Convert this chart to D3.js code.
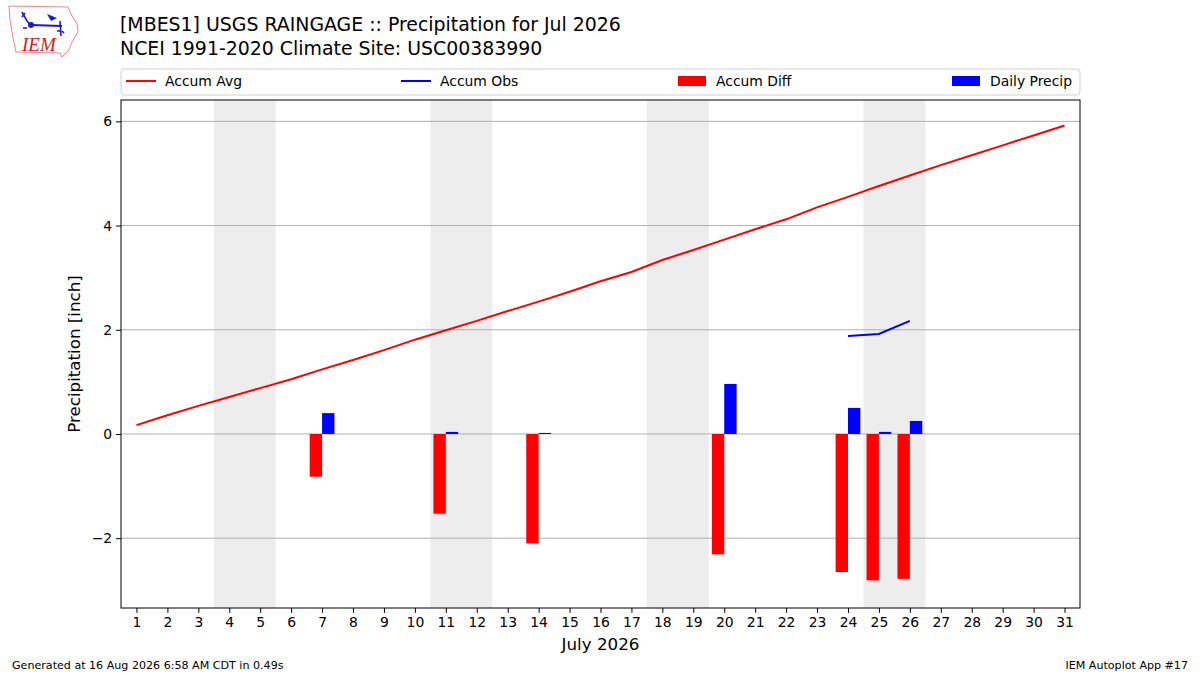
<!DOCTYPE html>
<html>
<head>
<meta charset="utf-8">
<script src="https://cdn.jsdelivr.net/npm/d3@7"></script>
<style>
    body { margin: 0; background: #fff; }
    svg text { font-family: "DejaVu Sans", sans-serif; }
</style>
</head>
<body>
<div id="chart"></div>
<script>
// day of month (x categories)
var days = [1, 2, 3, 4, 5, 6, 7, 8, 9, 10, 11, 12, 13, 14, 15, 16, 17, 18, 19, 20,
    21, 22, 23, 24, 25, 26, 27, 28, 29, 30, 31];
// climatology accumulation, inch
var accumAvg = [0.17, 0.36, 0.54, 0.71, 0.88, 1.05, 1.24, 1.42, 1.61, 1.81, 1.99, 2.17,
    2.36, 2.54, 2.73, 2.93, 3.11, 3.34, 3.53, 3.73, 3.93, 4.12, 4.35, 4.55, 4.76, 4.96,
    5.16, 5.35, 5.54, 5.73, 5.92];
// observed accumulation (only plotted for these days)
var obsDays = [24, 25, 26];
var accumObs = [1.88, 1.92, 2.17];
// days with rain
var rainDays = [7, 11, 14, 20, 24, 25, 26];
var dailyPrecip = [0.40, 0.04, 0.02, 0.96, 0.50, 0.04, 0.25];
var accumDiff = [-0.82, -1.53, -2.10, -2.31, -2.65, -2.81, -2.78];
// weekend shading (saturday, sunday)
var weekends = [[4, 5], [11, 12], [18, 19], [25, 26]];
var yTicks = [-2, 0, 2, 4, 6];
var legendLabels = ["Accum Avg", "Accum Obs", "Accum Diff", "Daily Precip"];

function init() {
    var w = 1200, h = 675;
    var left = 121, right = 1080, top = 100, bottom = 608;

    var svg = d3.select("#chart").append("svg")
        .attr("width", w)
        .attr("height", h);

    var x = d3.scaleLinear().domain([0.5, 31.5]).range([left, right]);
    var y = d3.scaleLinear().domain([-3.34, 6.41]).range([bottom, top]);

    // weekend boxes
    svg.append("g").selectAll("rect")
        .data(weekends)
        .enter()
        .append("rect")
        .attr("x", d => x(d[0] - 0.5))
        .attr("y", top)
        .attr("width", d => x(d[1] + 0.5) - x(d[0] - 0.5))
        .attr("height", bottom - top)
        .attr("fill", "#ededed");

    // horizontal grid
    svg.append("g").selectAll("line")
        .data(yTicks)
        .enter()
        .append("line")
        .attr("x1", left).attr("x2", right)
        .attr("y1", d => y(d)).attr("y2", d => y(d))
        .attr("stroke", "#b0b0b0")
        .attr("stroke-width", 1);

    var barW = 0.4;
    // accum diff bars, left of the day
    svg.append("g").selectAll("rect")
        .data(rainDays)
        .enter()
        .append("rect")
        .attr("x", d => x(d - barW))
        .attr("width", x(barW) - x(0))
        .attr("y", (d, i) => y(Math.max(0, accumDiff[i])))
        .attr("height", (d, i) => Math.abs(y(accumDiff[i]) - y(0)))
        .attr("fill", "red");

    // daily precip bars, right of the day
    svg.append("g").selectAll("rect")
        .data(rainDays)
        .enter()
        .append("rect")
        .attr("x", d => x(d))
        .attr("width", x(barW) - x(0))
        .attr("y", (d, i) => y(dailyPrecip[i]))
        .attr("height", (d, i) => y(0) - y(dailyPrecip[i]))
        .attr("fill", "blue");

    var line = d3.line()
        .x(d => x(d[0]))
        .y(d => y(d[1]));

    svg.append("path")
        .attr("d", line(days.map((d, i) => [d, accumAvg[i]])))
        .attr("fill", "none")
        .attr("stroke", "red")
        .attr("stroke-width", 2);

    svg.append("path")
        .attr("d", line(obsDays.map((d, i) => [d, accumObs[i]])))
        .attr("fill", "none")
        .attr("stroke", "blue")
        .attr("stroke-width", 2);

    // axes
    var xAxis = d3.axisBottom(x)
        .tickValues(days)
        .tickFormat(d3.format("d"))
        .tickSize(4.9)
        .tickPadding(4);
    var gx = svg.append("g")
        .attr("transform", "translate(0," + bottom + ")")
        .call(xAxis);

    var yAxis = d3.axisLeft(y)
        .tickValues(yTicks)
        .tickFormat(d => d < 0 ? "\u2212" + Math.abs(d) : d)
        .tickSize(4.9)
        .tickPadding(4);
    var gy = svg.append("g")
        .attr("transform", "translate(" + left + ",0)")
        .call(yAxis);

    [gx, gy].forEach(function (g) {
        g.select(".domain").remove();
        g.selectAll("text")
            .attr("font-size", "13.9px")
            .attr("font-family", "DejaVu Sans")
            .attr("fill", "#000");
        g.selectAll("line").attr("stroke", "#000").attr("stroke-width", 1);
    });

    // frame
    svg.append("rect")
        .attr("x", left).attr("y", top)
        .attr("width", right - left).attr("height", bottom - top)
        .attr("fill", "none")
        .attr("stroke", "#000")
        .attr("stroke-width", 1);

    // axis labels
    svg.append("text")
        .attr("x", (left + right) / 2).attr("y", 650)
        .attr("text-anchor", "middle")
        .attr("font-size", "16.7px")
        .text("July 2026");

    svg.append("text")
        .attr("transform", "translate(80," + ((top + bottom) / 2) + ") rotate(-90)")
        .attr("text-anchor", "middle")
        .attr("font-size", "16.7px")
        .text("Precipitation [inch]");

    // titles
    svg.append("text")
        .attr("x", 120).attr("y", 31)
        .attr("font-size", "18.9px")
        .text("[MBES1] USGS RAINGAGE :: Precipitation for Jul 2026");
    svg.append("text")
        .attr("x", 120).attr("y", 55)
        .attr("font-size", "18.9px")
        .text("NCEI 1991-2020 Climate Site: USC00383990");

    // legend box
    var leg = svg.append("g");
    leg.append("rect")
        .attr("x", 121).attr("y", 69)
        .attr("width", 959).attr("height", 26)
        .attr("rx", 3)
        .attr("fill", "#fff")
        .attr("stroke", "#d0d0d0");
    var legX = [126, 401, 678, 952];
    var legColors = ["red", "blue", "red", "blue"];
    legendLabels.forEach(function (lab, i) {
        if (i < 2) {
            leg.append("line")
                .attr("x1", legX[i]).attr("x2", legX[i] + 30)
                .attr("y1", 81).attr("y2", 81)
                .attr("stroke", legColors[i])
                .attr("stroke-width", 2);
        } else {
            leg.append("rect")
                .attr("x", legX[i]).attr("y", 76)
                .attr("width", 28).attr("height", 10)
                .attr("fill", legColors[i]);
        }
        leg.append("text")
            .attr("x", legX[i] + (i < 2 ? 39 : 38)).attr("y", 86)
            .attr("font-size", "13.9px")
            .text(lab);
    });

    // footer
    svg.append("text")
        .attr("x", 12).attr("y", 669)
        .attr("font-size", "11.1px")
        .text("Generated at 16 Aug 2026 6:58 AM CDT in 0.49s");
    svg.append("text")
        .attr("x", 1188).attr("y", 669)
        .attr("text-anchor", "end")
        .attr("font-size", "11.1px")
        .text("IEM Autoplot App #17");

    // IEM logo (rough)
    var logo = svg.append("g");
    logo.append("path")
        .attr("d", "M9,6 L68,7 L71,14 L77,24 L78,32 L72,42 L69,50 L62,57 L60,53 L16,52 L13,38 L10,20 Z")
        .attr("fill", "#fff")
        .attr("stroke", "#e88")
        .attr("stroke-width", 1);
    logo.append("line")
        .attr("x1", 31).attr("y1", 25).attr("x2", 62).attr("y2", 26)
        .attr("stroke", "#1a1acc").attr("stroke-width", 2.2);
    logo.append("circle")
        .attr("cx", 31).attr("cy", 25).attr("r", 3)
        .attr("fill", "#1a1acc");
    logo.append("path")
        .attr("d", "M22,12 L27,21 L30,24 M22,17 L25,13")
        .attr("fill", "none").attr("stroke", "#1a1acc").attr("stroke-width", 1.6);
    logo.append("path")
        .attr("d", "M47,14 L57,18 L51,21 Z")
        .attr("fill", "#1a1acc");
    logo.append("path")
        .attr("d", "M60,21 L61,36 M57,31 L60,31 M62,31 L64,33")
        .attr("fill", "none").attr("stroke", "#1a1acc").attr("stroke-width", 1.6);
    logo.append("circle").attr("cx", 24).attr("cy", 28).attr("r", 1).attr("fill", "#1a1acc");
    logo.append("circle").attr("cx", 26).attr("cy", 28).attr("r", 1).attr("fill", "#1a1acc");
    logo.append("text")
        .attr("x", 22).attr("y", 51)
        .style("font-family", "'Liberation Serif', serif")
        .style("font-style", "italic")
        .attr("font-size", "19px")
        .attr("fill", "#d42020")
        .text("IEM");
}
window.onload = init;
</script>
</body>
</html>
